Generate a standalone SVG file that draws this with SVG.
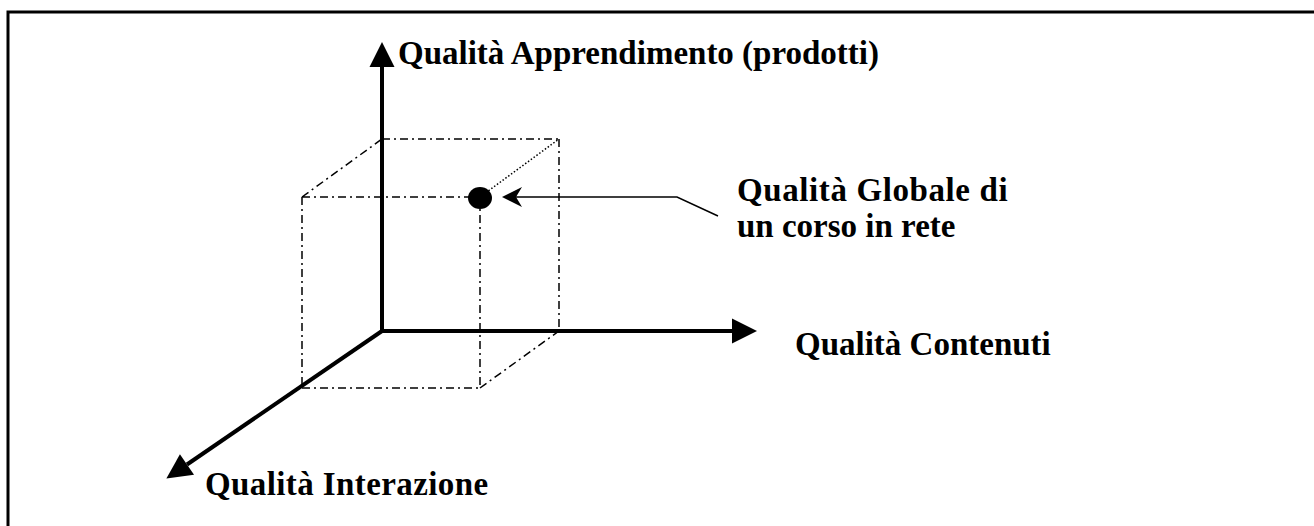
<svg xmlns="http://www.w3.org/2000/svg" width="1314" height="526" viewBox="0 0 1314 526">
<style>
.lbl{font-family:"Liberation Serif","Times New Roman",serif;font-weight:bold;font-size:33px;fill:#000}
.axis{stroke:#000;stroke-width:4;fill:none}
.dd{stroke:#000;stroke-width:1.5;fill:none;stroke-dasharray:8 4 2 4}
.dot{stroke:#000;stroke-width:1.5;fill:none;stroke-dasharray:1.5 2}
</style>
<defs>
<marker id="tri" markerUnits="userSpaceOnUse" markerWidth="30" markerHeight="30" refX="0" refY="12.5" orient="auto" overflow="visible">
<path d="M0,0 L25,12.5 L0,25 z" fill="#000"/>
</marker>
<marker id="stealth" markerUnits="userSpaceOnUse" markerWidth="30" markerHeight="30" refX="6" refY="10" orient="auto" overflow="visible">
<path d="M0,0 L20,10 L0,20 L6,10 z" fill="#000"/>
</marker>
</defs>
<rect x="8" y="12" width="1320" height="530" fill="none" stroke="#000" stroke-width="3"/>
<g id="cube">
<path class="dd" d="M302,197 H480 M302,197 V388 M302,388 H480 M480,197 V388 M302,197 L382,139 M382,139 H559 M559,139 V331 M480,388 L559,331"/>
<path class="dot" d="M480,197 L559,139"/>
</g>
<g id="connectors">
<line id="axis-y" class="axis" x1="382" y1="331" x2="382" y2="67" marker-end="url(#tri)"/>
<line id="axis-x" class="axis" x1="380" y1="331" x2="732" y2="331" marker-end="url(#tri)"/>
<line id="axis-z" class="axis" x1="382" y1="331" x2="187" y2="464.5" marker-end="url(#tri)"/>
<polyline id="pointer" points="718,216 677,197 516,197" fill="none" stroke="#000" stroke-width="1.5" marker-end="url(#stealth)"/>
</g>
<g id="point">
<ellipse cx="480" cy="198" rx="12" ry="11" fill="#000"/>
</g>
<g id="label-y"><text class="lbl" x="398" y="64">Qualità Apprendimento (prodotti)</text></g>
<g id="label-global"><text class="lbl" x="737" y="201" letter-spacing="0.6">Qualità Globale di</text><text class="lbl" x="737" y="237">un corso in rete</text></g>
<g id="label-x"><text class="lbl" x="795" y="355">Qualità Contenuti</text></g>
<g id="label-z"><text class="lbl" x="205" y="495" letter-spacing="0.4">Qualità Interazione</text></g>
</svg>
